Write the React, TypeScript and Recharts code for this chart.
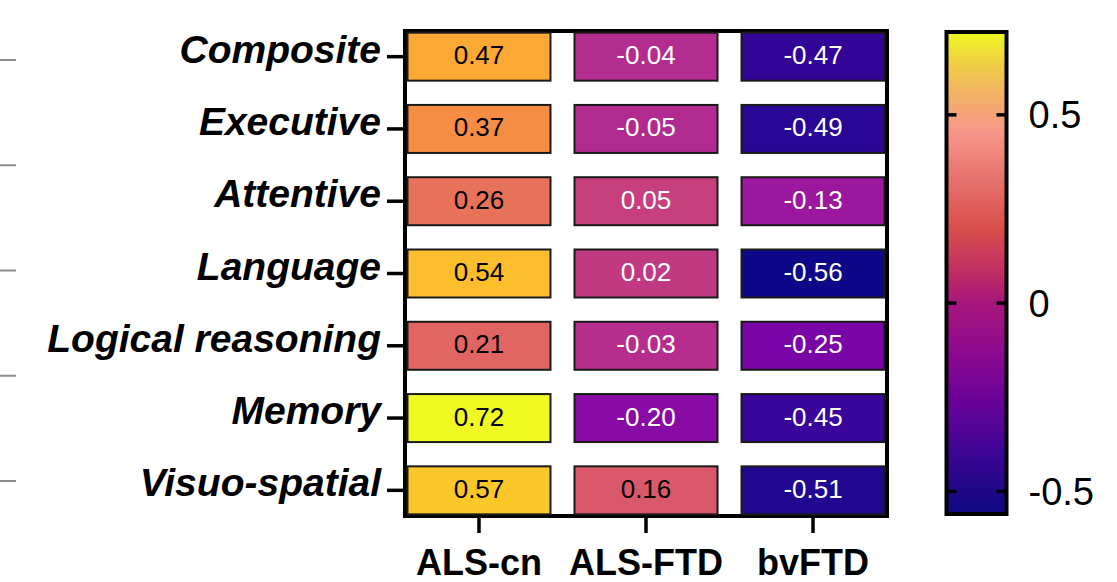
import React from 'react';
import { ScatterChart, Scatter, XAxis, YAxis, ReferenceArea, ComposedChart } from 'recharts';

const rowLabels = ['Composite', 'Executive', 'Attentive', 'Language', 'Logical reasoning', 'Memory', 'Visuo-spatial'];
const groupLabels = ['ALS-cn', 'ALS-FTD', 'bvFTD'];
const alsCnValues = [0.47, 0.37, 0.26, 0.54, 0.21, 0.72, 0.57];
const alsFtdValues = [-0.04, -0.05, 0.05, 0.02, -0.03, -0.2, 0.16];
const bvFtdValues = [-0.47, -0.49, -0.13, -0.56, -0.25, -0.45, -0.51];
const colorbarTicks = [-0.5, 0, 0.5];
const colorbarMin = -0.56;
const colorbarMax = 0.72;
const sideTicks = [0, 1, 2, 3, 4];

const PLASMA = ['#0d0887', '#41049d', '#6a00a8', '#8f0da4', '#b12a90', '#cc4778', '#e16462', '#f2844b', '#fca636', '#fcce25', '#f0f921'];
const COLORBAR_STOPS: [number, string][] = [
  [0.72, '#f0f921'], [0.64, '#efd043'], [0.56, '#f1b463'], [0.5, '#f5a37a'], [0.45, '#f7958a'],
  [0.32, '#e56f6c'], [0.2, '#d94f4b'], [0.1, '#c3335f'], [0, '#a6167b'], [-0.12, '#8f0a8d'],
  [-0.26, '#690299'], [-0.39, '#3f0594'], [-0.56, '#0d0880'],
];

const FONT = '"Liberation Sans", Arial, Helvetica, sans-serif';

function hexToRgb(h: string) {
  return [parseInt(h.slice(1, 3), 16), parseInt(h.slice(3, 5), 16), parseInt(h.slice(5, 7), 16)];
}
function plasma(v: number) {
  let t = (v - colorbarMin) / (colorbarMax - colorbarMin);
  t = Math.max(0, Math.min(1, t));
  const p = t * (PLASMA.length - 1);
  const i = Math.min(Math.floor(p), PLASMA.length - 2);
  const f = p - i;
  const a = hexToRgb(PLASMA[i]);
  const b = hexToRgb(PLASMA[i + 1]);
  const c = a.map((av, k) => Math.round(av + (b[k] - av) * f));
  return `rgb(${c[0]},${c[1]},${c[2]})`;
}

const series = [alsCnValues, alsFtdValues, bvFtdValues];
const cells = series.flatMap((vals, gi) => vals.map((v, ri) => ({ x: gi, y: ri, value: v })));

const CELL_W = 143;
const CELL_H = 48;

const renderCell = (props: any) => {
  const { cx, cy, payload } = props;
  if (cx == null || cy == null) return <g />;
  const v = payload.value as number;
  return (
    <g>
      <rect x={cx - CELL_W / 2} y={cy - CELL_H / 2} width={CELL_W} height={CELL_H} fill={plasma(v)} stroke="#1a1a1a" strokeWidth={2} />
      <text x={cx} y={cy + 7.5} textAnchor="middle" fontSize={26} fontFamily={FONT} fill={v > 0.1 ? '#000' : '#fff'}>
        {v.toFixed(2)}
      </text>
    </g>
  );
};

const YTick = (props: any) => {
  const { x, y, payload } = props;
  return (
    <text x={x} y={y} dy={6} textAnchor="end" fontSize={39} fontWeight="bold" fontStyle="italic" fontFamily={FONT} fill="#000">
      {rowLabels[payload.value]}
    </text>
  );
};

const XTick = (props: any) => {
  const { x, y, payload } = props;
  return (
    <text x={x} y={y} dy={42} textAnchor="middle" fontSize={36} fontWeight="bold" fontFamily={FONT} fill="#000">
      {groupLabels[payload.value]}
    </text>
  );
};

const CbTick = (props: any) => {
  const { x, y, payload } = props;
  return (
    <text x={x} y={y} dy={13.5} textAnchor="start" fontSize={38} fontFamily={FONT} fill="#000">
      {String(payload.value)}
    </text>
  );
};

const Empty = () => <g />;

export default function App() {
  return (
    <div style={{ position: 'absolute', left: 0, top: 0, width: 1117, height: 582, background: '#fff' }}>
      <div style={{ position: 'absolute', left: 0, top: 0 }}>
        <ScatterChart width={900} height={582} margin={{ top: 31, right: 13, bottom: 0, left: 0 }}>
          <XAxis
            type="number"
            dataKey="x"
            domain={[-0.443, 2.443]}
            ticks={[0, 1, 2]}
            interval={0}
            height={66}
            axisLine={false}
            tickSize={17}
            tickMargin={0}
            tickLine={{ stroke: '#000', strokeWidth: 3.5 }}
            tick={<XTick />}
            allowDataOverflow
          />
          <YAxis
            yAxisId="z_ghost"
            type="number"
            domain={[-0.2755, 4.3325]}
            reversed
            ticks={sideTicks}
            interval={0}
            width={16}
            axisLine={false}
            tickSize={16}
            tickMargin={0}
            tickLine={{ stroke: '#8c8c8c', strokeWidth: 2 }}
            tick={<Empty />}
            allowDataOverflow
          />
          <YAxis
            yAxisId="a_rows"
            type="number"
            dataKey="y"
            domain={[-0.355, 6.355]}
            reversed
            ticks={[0, 1, 2, 3, 4, 5, 6]}
            interval={0}
            width={389}
            axisLine={false}
            tickSize={18}
            tickMargin={6}
            tickLine={{ stroke: '#000', strokeWidth: 3.5 }}
            tick={<YTick />}
            allowDataOverflow
          />
          <ReferenceArea
            yAxisId="a_rows"
            x1={-0.443}
            x2={2.443}
            y1={-0.355}
            y2={6.355}
            fill="none"
            stroke="#000"
            strokeWidth={4}
            ifOverflow="visible"
          />
          <Scatter yAxisId="a_rows" data={cells} shape={renderCell} isAnimationActive={false} />
        </ScatterChart>
      </div>
      <div style={{ position: 'absolute', left: 900, top: 0 }}>
        <ComposedChart width={217} height={582} margin={{ top: 32, right: 0, bottom: 68, left: 46.5 }} data={[{ a: 0 }]}>
          <defs>
            <linearGradient id="cbGrad" x1="0" y1="0" x2="0" y2="1">
              {COLORBAR_STOPS.map(([v, c], i) => (
                <stop key={i} offset={`${((colorbarMax - v) / (colorbarMax - colorbarMin)) * 100}%`} stopColor={c} />
              ))}
            </linearGradient>
          </defs>
          <XAxis type="number" dataKey="a" domain={[0, 1]} hide />
          <YAxis
            yAxisId="cb"
            orientation="right"
            type="number"
            domain={[colorbarMin, colorbarMax]}
            ticks={colorbarTicks}
            interval={0}
            width={110.5}
            axisLine={false}
            tickLine={false}
            tickSize={0}
            tickMargin={22}
            tick={<CbTick />}
            allowDataOverflow
          />
          <ReferenceArea
            yAxisId="cb"
            x1={0}
            x2={1}
            y1={colorbarMin}
            y2={colorbarMax}
            fill="url(#cbGrad)"
            fillOpacity={1}
            stroke="#000"
            strokeWidth={4}
            ifOverflow="visible"
          />
          <YAxis
            yAxisId="cbR"
            orientation="right"
            mirror
            type="number"
            domain={[colorbarMin, colorbarMax]}
            ticks={colorbarTicks}
            interval={0}
            width={10}
            axisLine={false}
            tickSize={10}
            tickLine={{ stroke: '#000', strokeWidth: 3.5 }}
            tick={<Empty />}
            allowDataOverflow
          />
          <YAxis
            yAxisId="cbL"
            orientation="left"
            mirror
            type="number"
            domain={[colorbarMin, colorbarMax]}
            ticks={colorbarTicks}
            interval={0}
            width={10}
            axisLine={false}
            tickSize={10}
            tickLine={{ stroke: '#000', strokeWidth: 3.5 }}
            tick={<Empty />}
            allowDataOverflow
          />
        </ComposedChart>
      </div>
    </div>
  );
}
